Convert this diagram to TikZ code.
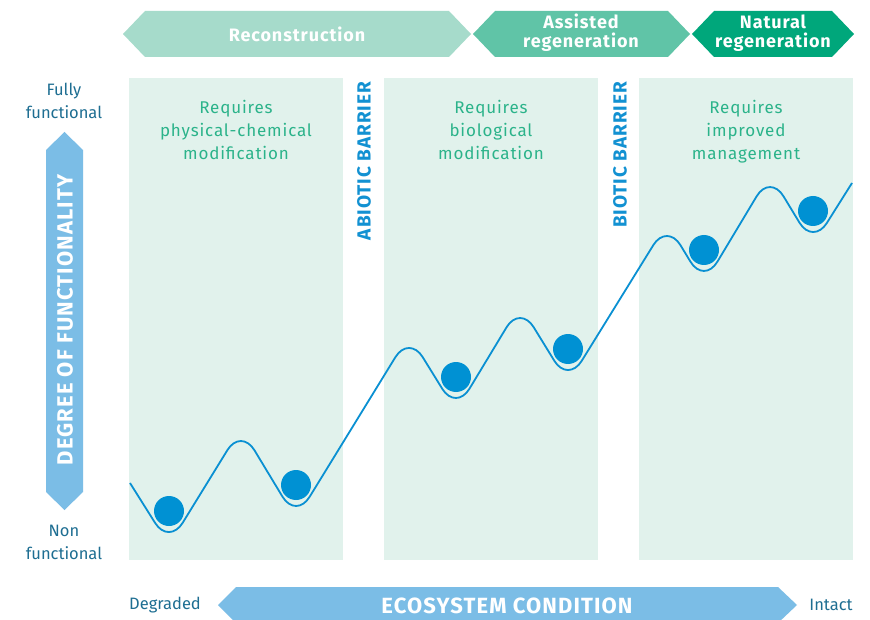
\documentclass[tikz,border=0pt]{standalone}
\usepackage{fontspec}
\setmainfont{Fira Sans}
\newfontfamily\spaced{Fira Sans}[LetterSpace=5]
\definecolor{panelbg}{HTML}{E1F2EC}
\definecolor{recon}{HTML}{A6DBCB}
\definecolor{assist}{HTML}{60C4A7}
\definecolor{natural}{HTML}{00A77B}
\definecolor{curveblue}{HTML}{0A90D2}
\definecolor{ballblue}{HTML}{0091D3}
\definecolor{arrowblue}{HTML}{7BBDE6}
\definecolor{greentext}{HTML}{2BB38A}
\definecolor{darklabel}{HTML}{1E6E92}
\definecolor{barrierblue}{HTML}{1291D2}
\tikzset{
  panel/.style={fill=panelbg, draw=none, minimum width=214pt, minimum height=482pt, inner sep=0pt},
  reqtext/.style={text=greentext, align=center, anchor=north, font=\spaced\fontsize{17}{23}\selectfont},
  headtext/.style={text=white, align=center, font=\spaced\bfseries\fontsize{18}{19}\selectfont},
  sidelabel/.style={text=darklabel, align=center, font=\fontsize{16.5}{23}\selectfont},
  barrier/.style={text=barrierblue, rotate=90, font=\spaced\bfseries\fontsize{19}{20}\selectfont},
  axistext/.style={text=white, font=\spaced\bfseries\fontsize{22}{24}\selectfont},
  curveline/.style={draw=curveblue, line width=1.8pt, rounded corners=26pt},
  ball/.style={circle, fill=ballblue, minimum size=30pt, inner sep=0pt}
}
\begin{document}
\begin{tikzpicture}[x=1pt,y=-1pt]
\useasboundingbox (0,0) rectangle (870,620);
\fill[white] (0,0) rectangle (870,620);

% top chevrons
\fill[recon] (123,34) -- (145,11) -- (449,11) -- (471,34) -- (449,57) -- (145,57) -- cycle;
\fill[assist] (473,34) -- (495,11) -- (668,11) -- (690,34) -- (668,57) -- (495,57) -- cycle;
\fill[natural] (692,34) -- (714,11) -- (832,11) -- (854,34) -- (832,57) -- (714,57) -- cycle;
\node[headtext] (trecon) at (297,34) {Reconstruction};
\node[headtext] (tassist) at (581,33) {Assisted\\regeneration};
\node[headtext] (tnatural) at (773,33) {Natural\\regeneration};

% panels
\node[panel] (p1) at (236,319) {};
\node[panel] (p2) at (491,319) {};
\node[panel] (p3) at (746,319) {};

\node[reqtext] (r1) at (236,97) {Requires\\physical-chemical\\modification};
\node[reqtext] (r2) at (491,97) {Requires\\biological\\modification};
\node[reqtext] (r3) at (746,97) {Requires\\improved\\management};

% barriers
\node[barrier] (ab) at (364,161) {ABIOTIC BARRIER};
\node[barrier] (bb) at (620,155) {BIOTIC BARRIER};

% left axis arrow
\fill[arrowblue] (46,150) -- (64.5,132) -- (83,150) -- (83,492) -- (64.5,510) -- (46,492) -- cycle;
\node[axistext, rotate=90] (deg) at (65,320) {DEGREE OF FUNCTIONALITY};
\node[sidelabel] (full) at (64,101) {Fully\\functional};
\node[sidelabel] (non) at (64,542) {Non\\functional};

% bottom axis arrow
\fill[arrowblue] (218,605) -- (236,587) -- (778,587) -- (797,605) -- (778,623) -- (236,623) -- cycle;
\node[axistext] (eco) at (507,606) {ECOSYSTEM CONDITION};
\node[sidelabel] (degr) at (165,605) {Degraded};
\node[sidelabel] (intact) at (831,605) {Intact};

% landscape curve
\draw[curveline] (130,483) -- (169,545) -- (241,428) -- (296,519) -- (409,335)
  -- (456,411) -- (520,305) -- (568,383) -- (667,223) -- (704,284)
  -- (770,174) -- (813,245) -- (852,183);

% balls
\node[ball] (b1) at (169,511) {};
\node[ball] (b2) at (296,485) {};
\node[ball] (b3) at (456,377) {};
\node[ball] (b4) at (568,349) {};
\node[ball] (b5) at (704,250) {};
\node[ball] (b6) at (813,211) {};
\end{tikzpicture}
\end{document}
